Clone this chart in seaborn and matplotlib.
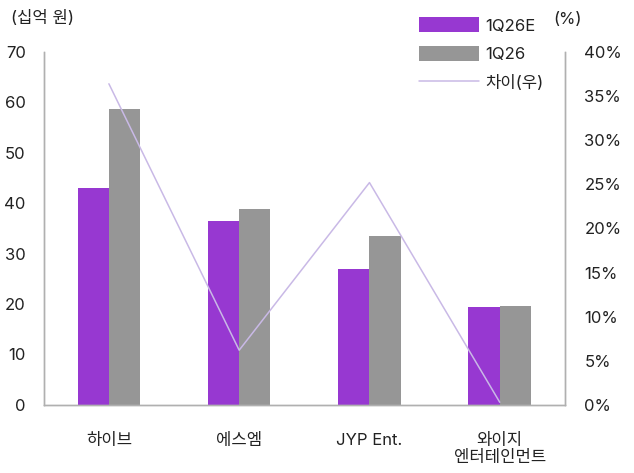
import pandas as pd
import matplotlib.pyplot as plt
import seaborn as sns
from matplotlib.patches import Patch
from matplotlib.lines import Line2D

# Data
companies = ["하이브", "에스엠", "JYP Ent.", "와이지\n엔터테인먼트"]
est_1q26e = [43.0, 36.5, 27.0, 19.4]
act_1q26 = [58.7, 38.9, 33.5, 19.6]
diff_pct = [36.4, 6.2, 25.2, 0.3]

PURPLE = "#9738d1"
GREY = "#969696"
LINE = "#c9b9e6"
SPINE = "#b0b0b0"
FS = 12

sns.set_theme(style="white")
plt.rcParams['font.family'] = ['Inter', 'Noto Sans CJK KR', 'DejaVu Sans']

df = pd.DataFrame({
    "company": companies * 2,
    "value": est_1q26e + act_1q26,
    "series": ["1Q26E"] * 4 + ["1Q26"] * 4,
})

fig = plt.figure(figsize=(6.34, 4.73), dpi=100)
ax = fig.add_axes([0.069, 0.144, 0.822, 0.746])

sns.barplot(data=df, x="company", y="value", hue="series",
            palette=[PURPLE, GREY], width=0.48, saturation=1,
            legend=False, linewidth=0, edgecolor="none", ax=ax)
ax.set_ylim(0, 70)
ax.set_yticks(range(0, 71, 10))
ax.set_xlim(-0.5, 3.5)
ax.set_xlabel("")
ax.set_ylabel("")

# difference on the right axis
ax2 = ax.twinx()
sns.lineplot(x=list(range(4)), y=diff_pct, color=LINE, linewidth=1.1, ax=ax2)
ax2.set_ylim(0, 40)
ax2.set_yticks(range(0, 41, 5))
ax2.set_yticklabels([f"{v}%" for v in range(0, 41, 5)])

for a in (ax, ax2):
    for s in a.spines.values():
        s.set_color(SPINE)
        s.set_linewidth(1)
    a.spines["top"].set_visible(False)
    a.tick_params(length=0, labelsize=FS, colors="#222222")
ax.tick_params(axis="y", pad=13)
ax.tick_params(axis="x", pad=20)
ax2.tick_params(axis="y", pad=14)
for lbl in ax2.get_yticklabels():
    lbl.set_horizontalalignment("left")

fig.text(0.018, 0.962, "(십억 원)", fontsize=FS, color="#222222", va="center")
fig.text(0.872, 0.958, "(%)", fontsize=FS, color="#222222", va="center")

handles = [Patch(color=PURPLE, linewidth=0), Patch(color=GREY, linewidth=0),
           Line2D([0], [0], color=LINE, lw=1.1)]
fig.legend(handles, ["1Q26E", "1Q26", "차이(우)"], loc="upper left",
           bbox_to_anchor=(0.637, 0.995), frameon=False, fontsize=FS,
           handlelength=3.6, handleheight=1.0, handletextpad=0.4,
           labelspacing=0.75, labelcolor="#222222")

fig.savefig("out.png", dpi=100)
